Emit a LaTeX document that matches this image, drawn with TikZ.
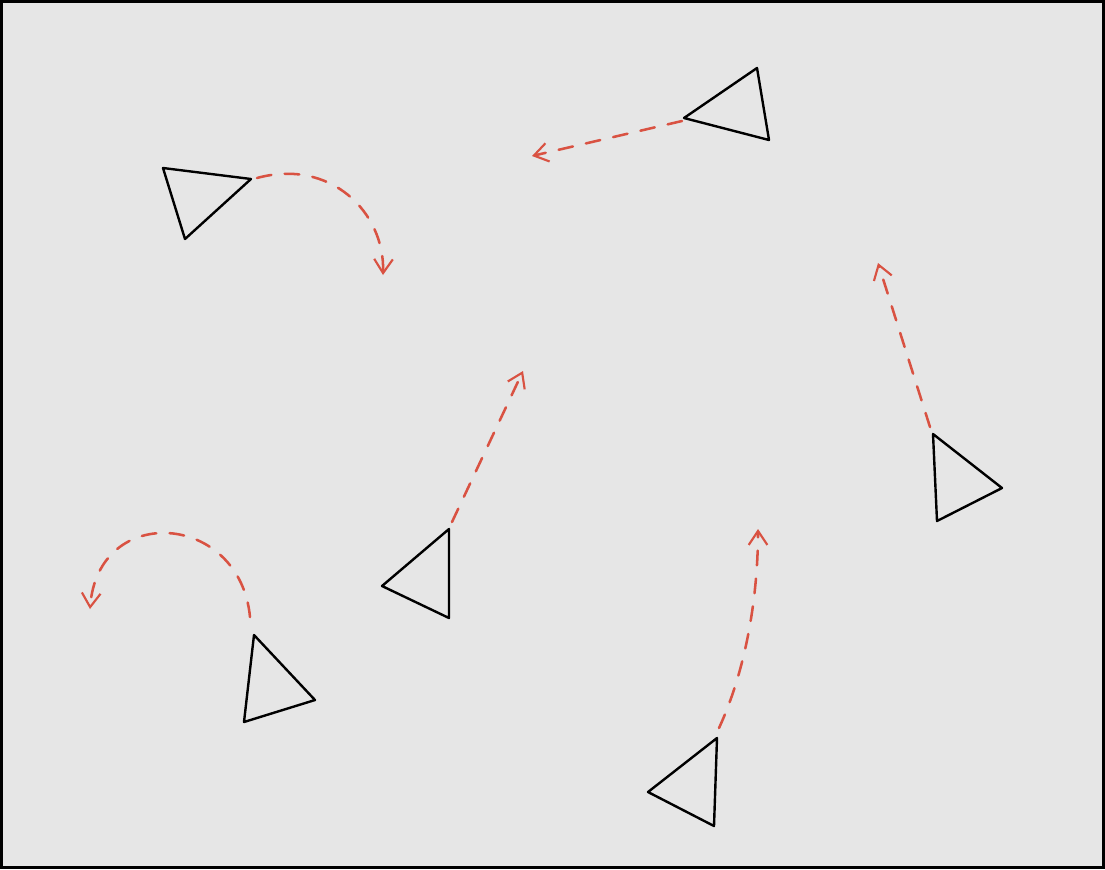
\documentclass[tikz,border=0pt]{standalone}
\usetikzlibrary{arrows.meta}
\definecolor{bg}{RGB}{230,230,230}
\definecolor{trail}{RGB}{217,82,66}
\tikzset{
  tri/.style={draw=black, line width=1.8pt, line join=round},
  path/.style={draw=trail, line width=1.9pt, line cap=round, dash pattern=on 11pt off 10pt,
    -{Straight Barb[length=10.5pt,width=14pt,line width=1.6pt]}},
}
\begin{document}
\begin{tikzpicture}[x=0.75pt,y=-0.75pt]
\useasboundingbox (0,0) rectangle (1105,869);
\fill[bg] (0,0) rectangle (1105,869);
\draw[black, line width=1.6pt] (1.5,1.5) rectangle (1103.5,867.5);

% triangle 1 (top left)
\coordinate (a1) at (163,168); \coordinate (b1) at (251,179); \coordinate (c1) at (185,239);
\draw[tri] (a1) -- (b1) -- (c1) -- cycle;
\coordinate (s1) at (257,178); \coordinate (e1) at (383,275);
\draw[path] (s1) .. controls (330,158) and (385,212) .. (e1);

% triangle 2 (top middle)
\coordinate (a2) at (684,118); \coordinate (b2) at (757,68); \coordinate (c2) at (769,140);
\draw[tri] (a2) -- (b2) -- (c2) -- cycle;
\coordinate (s2) at (682,121); \coordinate (e2) at (532,156);
\draw[path] (s2) -- (e2);

% triangle 3 (bottom left)
\coordinate (a3) at (254,635); \coordinate (b3) at (315,700); \coordinate (c3) at (244,722);
\draw[tri] (a3) -- (b3) -- (c3) -- cycle;
\coordinate (s3) at (250,617); \coordinate (e3) at (90,609);
\draw[path] (s3) .. controls (240,512) and (98,502) .. (e3);

% triangle 4 (center)
\coordinate (a4) at (449,529); \coordinate (b4) at (382,586); \coordinate (c4) at (449,618);
\draw[tri] (a4) -- (b4) -- (c4) -- cycle;
\coordinate (s4) at (452,522); \coordinate (e4) at (523,371);
\draw[path] (s4) -- (e4);

% triangle 5 (bottom middle)
\coordinate (a5) at (717,738); \coordinate (b5) at (648,792); \coordinate (c5) at (714,826);
\draw[tri] (a5) -- (b5) -- (c5) -- cycle;
\coordinate (s5) at (719,728); \coordinate (e5) at (758,529);
\draw[path] (s5) .. controls (748,665) and (758,590) .. (e5);

% triangle 6 (right)
\coordinate (a6) at (933,434); \coordinate (b6) at (1002,488); \coordinate (c6) at (937,521);
\draw[tri] (a6) -- (b6) -- (c6) -- cycle;
\coordinate (s6) at (930,427); \coordinate (e6) at (878,263);
\draw[path] (s6) -- (e6);
\end{tikzpicture}
\end{document}
